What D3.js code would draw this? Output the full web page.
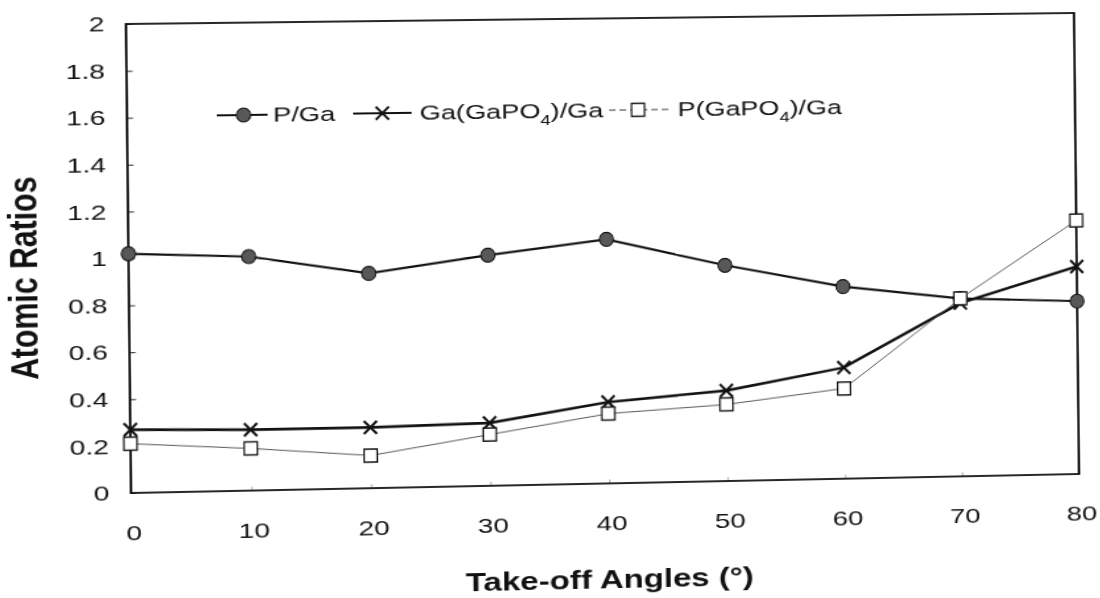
<!DOCTYPE html>
<html>
<head>
<meta charset="utf-8">
<script src="https://cdn.jsdelivr.net/npm/d3@7"></script>
<style>
  html, body { margin: 0; padding: 0; background: #fff; overflow: hidden; }
  #chart { position: absolute; left: 0; top: 0; transform-origin: 0 0; }
  text { font-family: "Liberation Sans", Arial, sans-serif; fill: #111; }
</style>
</head>
<body>
<svg id="chart" width="860" height="598"></svg>
<script>
// Take-off angle series (degrees)
const angles = [0, 10, 20, 30, 40, 50, 60, 70, 80];
// Atomic ratios per angle
const pGa      = [1.02, 1.00, 0.92, 0.99, 1.05, 0.93, 0.83, 0.77, 0.75];
const gaGaPO4  = [0.27, 0.26, 0.26, 0.27, 0.35, 0.39, 0.48, 0.75, 0.90];
const pGaPO4   = [0.21, 0.18, 0.14, 0.22, 0.30, 0.33, 0.39, 0.77, 1.10];

const yTicks = [0, 0.2, 0.4, 0.6, 0.8, 1, 1.2, 1.4, 1.6, 1.8, 2];
const yTickLabels = ["0", "0.2", "0.4", "0.6", "0.8", "1", "1.2", "1.4", "1.6", "1.8", "2"];
const xTicks = [0, 10, 20, 30, 40, 50, 60, 70, 80];
const xTickLabels = ["0", "10", "20", "30", "40", "50", "60", "70", "80"];

// Drawing frame (local units); glyphs are drawn narrow and widened by the page transform
const SX = 1.32;
const L = 97, R = 815, T = 18, B = 484;

// Page placement of the plot box corners (slightly tilted print)
const boxCorners = [[126, 24], [1074, 13], [1079, 474], [131, 493]];

function solveLinear(A, b) {
  const n = b.length;
  for (let i = 0; i < n; i++) {
    let p = i;
    for (let r = i + 1; r < n; r++) if (Math.abs(A[r][i]) > Math.abs(A[p][i])) p = r;
    [A[i], A[p]] = [A[p], A[i]]; [b[i], b[p]] = [b[p], b[i]];
    for (let r = i + 1; r < n; r++) {
      const f = A[r][i] / A[i][i];
      for (let c = i; c < n; c++) A[r][c] -= f * A[i][c];
      b[r] -= f * b[i];
    }
  }
  const x = new Array(n);
  for (let i = n - 1; i >= 0; i--) {
    let s = b[i];
    for (let c = i + 1; c < n; c++) s -= A[i][c] * x[c];
    x[i] = s / A[i][i];
  }
  return x;
}

function homography(src, dst) {
  const A = [], b = [];
  for (let i = 0; i < 4; i++) {
    const [x, y] = src[i], [X, Y] = dst[i];
    A.push([x, y, 1, 0, 0, 0, -x * X, -y * X]); b.push(X);
    A.push([0, 0, 0, x, y, 1, -x * Y, -y * Y]); b.push(Y);
  }
  const h = solveLinear(A, b);
  return `matrix3d(${h[0]},${h[3]},0,${h[6]},${h[1]},${h[4]},0,${h[7]},0,0,1,0,${h[2]},${h[5]},0,1)`;
}

const svg = d3.select("#chart");
svg.style("transform", homography([[L, T], [R, T], [R, B], [L, B]], boxCorners));

const x = d3.scaleLinear().domain([0, 80]).range([L, R]);
const y = d3.scaleLinear().domain([0, 2]).range([B, T]);

// Axes
const yAxis = d3.axisLeft(y)
  .tickValues(yTicks)
  .tickFormat((d, i) => yTickLabels[i])
  .tickSizeInner(-4.5).tickSizeOuter(0).tickPadding(16);
const gy = svg.append("g").attr("transform", `translate(${L},0)`).call(yAxis);
gy.select(".domain").remove();
gy.selectAll(".tick line").attr("stroke", "#222").attr("stroke-width", 1);
gy.selectAll(".tick text").attr("font-size", 21).attr("fill", "#111")
  .attr("font-family", "'Liberation Sans', Arial, sans-serif");

const xAxis = d3.axisBottom(x)
  .tickValues(xTicks)
  .tickFormat((d, i) => xTickLabels[i])
  .tickSizeInner(-4).tickSizeOuter(0).tickPadding(32);
const gx = svg.append("g").attr("transform", `translate(0,${B})`).call(xAxis);
gx.select(".domain").remove();
gx.selectAll(".tick line").attr("stroke", "#999").attr("stroke-width", 0.8);
gx.selectAll(".tick text").attr("font-size", 21).attr("fill", "#111").attr("dx", 1.5)
  .attr("font-family", "'Liberation Sans', Arial, sans-serif");

// Plot frame
svg.append("rect")
  .attr("x", L).attr("y", T).attr("width", R - L).attr("height", B - T)
  .attr("fill", "none").attr("stroke", "#111").attr("stroke-width", 1.8);

// Series lines
const line = d3.line().x(d => x(d[0])).y(d => y(d[1]));
const series = [
  { vals: pGa,     width: 2.2, color: "#111", marker: "circle" },
  { vals: gaGaPO4, width: 2.6, color: "#111", marker: "cross" },
  { vals: pGaPO4,  width: 1.0, color: "#555", marker: "square" }
];

function drawMarker(g, kind) {
  if (kind === "circle") {
    g.append("circle").attr("r", 7).attr("fill", "#585858").attr("stroke", "#111").attr("stroke-width", 1.2);
  } else if (kind === "cross") {
    g.append("path").attr("d", "M-6.5,-6.5L6.5,6.5M-6.5,6.5L6.5,-6.5")
      .attr("stroke", "#111").attr("stroke-width", 2.4).attr("fill", "none");
  } else {
    g.append("rect").attr("x", -6.5).attr("y", -6.5).attr("width", 13).attr("height", 13)
      .attr("fill", "#fff").attr("stroke", "#111").attr("stroke-width", 1.5);
  }
}

series.forEach(s => {
  svg.append("path")
    .datum(angles.map((a, i) => [a, s.vals[i]]))
    .attr("d", line)
    .attr("fill", "none")
    .attr("stroke", s.color)
    .attr("stroke-width", s.width);
});

series.forEach(s => {
  angles.forEach((a, i) => {
    const g = svg.append("g")
      .attr("transform", `translate(${x(a)},${y(s.vals[i])}) scale(${1 / SX},1)`);
    drawMarker(g, s.marker);
  });
});

// Legend
const LY = 110;
const legendItems = [
  { x0: 164, x1: 202, mx: 184, tx: 206, width: 2.0, color: "#111", marker: "circle", label: ["P/Ga"] },
  { x0: 266, x1: 310, mx: 288, tx: 316, width: 2.0, color: "#111", marker: "cross", label: ["Ga(GaPO", "4", ")/Ga"] },
  { x0: 459, x1: 505, mx: 481, tx: 511, width: 1.0, color: "#333", marker: "square", label: ["P(GaPO", "4", ")/Ga"] }
];
legendItems.forEach(it => {
  svg.append("line").attr("x1", it.x0).attr("x2", it.x1).attr("y1", LY).attr("y2", LY)
    .attr("stroke", it.color).attr("stroke-width", it.width)
    .attr("stroke-dasharray", it.marker === "square" ? "5,3" : null);
  const g = svg.append("g").attr("transform", `translate(${it.mx},${LY}) scale(${1 / SX},1)`);
  drawMarker(g, it.marker);
  const t = svg.append("text").attr("x", it.tx).attr("y", LY + 7).attr("font-size", 20.5);
  t.append("tspan").text(it.label[0]);
  if (it.label.length > 1) {
    t.append("tspan").attr("dy", 7).attr("font-size", 14).text(it.label[1]);
    t.append("tspan").attr("dy", -7).text(it.label[2]);
  }
});

// Axis titles
svg.append("text")
  .attr("x", (L + R) / 2).attr("y", B + 105)
  .attr("text-anchor", "middle").attr("font-size", 25).attr("font-weight", "bold")
  .text("Take-off Angles (°)");

svg.append("text")
  .attr("transform", `translate(29,${(T + B) / 2 + 18}) rotate(-90)`)
  .attr("text-anchor", "middle").attr("font-size", 30).attr("font-weight", "bold")
  .text("Atomic Ratios");
</script>
</body>
</html>
